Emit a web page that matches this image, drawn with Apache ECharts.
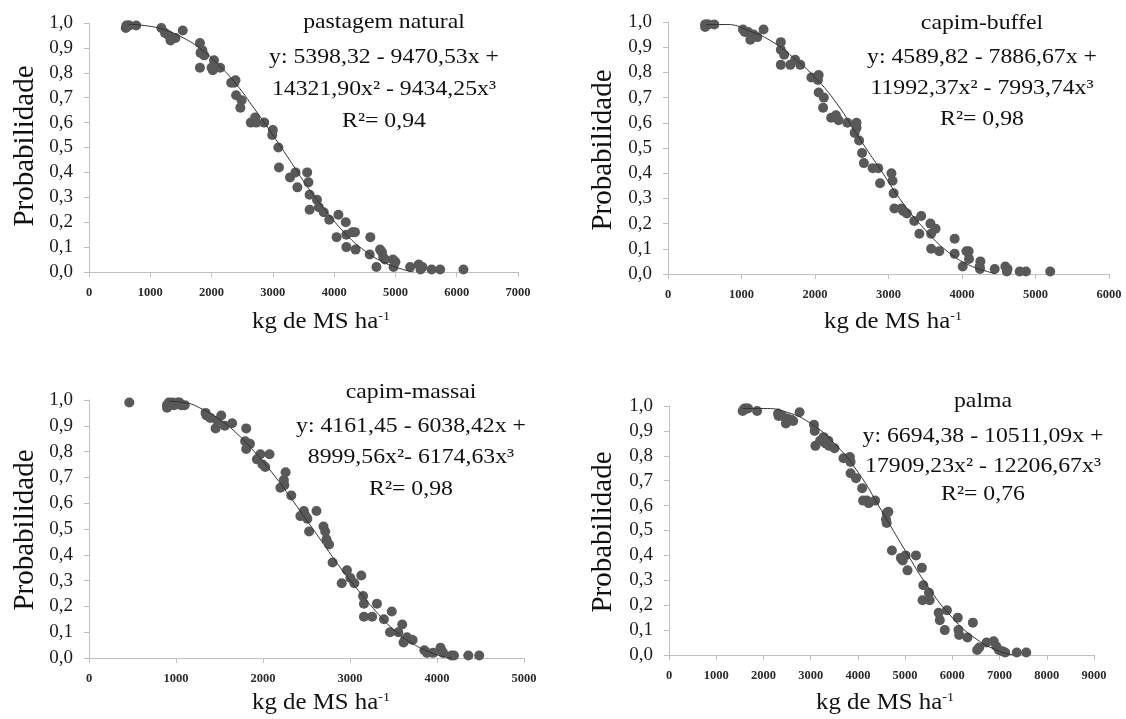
<!DOCTYPE html>
<html>
<head>
<meta charset="utf-8">
<script src="https://cdn.jsdelivr.net/npm/echarts@6/dist/echarts.min.js"></script>
<style>
html,body{margin:0;padding:0;background:#fff;}
#c{width:1126px;height:719px;}
</style>
</head>
<body>
<div id="c"></div>
<script>
// ---- data ----
var yTicks = ['0,0','0,1','0,2','0,3','0,4','0,5','0,6','0,7','0,8','0,9','1,0'];
var panelNames = ['pastagem natural','capim-buffel','capim-massai','palma'];
var eqLine1 = ['y: 5398,32 - 9470,53x +','y: 4589,82 - 7886,67x +','y: 4161,45 - 6038,42x +','y: 6694,38 - 10511,09x +'];
var eqLine2 = ['14321,90x\u00b2 - 9434,25x\u00b3','11992,37x\u00b2 - 7993,74x\u00b3','8999,56x\u00b2- 6174,63x\u00b3','17909,23x\u00b2 - 12206,67x\u00b3'];
var r2Text = ['R\u00b2= 0,94','R\u00b2= 0,98','R\u00b2= 0,98','R\u00b2= 0,76'];
var xMax = [7000, 6000, 5000, 9000];

var pastagemPts = [[600,0.98],[610,0.99],[640,0.99],[660,0.99],[770,0.99],
[1180,0.98],[1240,0.96],[1300,0.95],[1330,0.93],[1350,0.94],[1410,0.94],[1530,0.97],
[1810,0.92],[1820,0.88],[1850,0.89],[1880,0.87],[1810,0.82],[2000,0.82],[2040,0.85],[2020,0.81],[2140,0.82],
[2320,0.76],[2370,0.76],[2390,0.77],[2400,0.71],[2490,0.69],[2470,0.66],
[2640,0.60],[2710,0.62],[2730,0.60],[2860,0.60],[3000,0.57],[2990,0.55],
[3090,0.50],[3100,0.42],[3280,0.38],[3370,0.40],[3400,0.34],[3560,0.40],[3580,0.36],[3600,0.31],[3600,0.25],[3720,0.29],[3750,0.26],[3830,0.24],[3920,0.21],
[4070,0.23],[4040,0.14],[4190,0.20],[4200,0.15],[4200,0.10],[4300,0.16],[4340,0.16],[4350,0.09],
[4590,0.14],[4580,0.07],[4690,0.02],[4750,0.09],[4780,0.08],[4800,0.06],[4830,0.05],[4960,0.05],[4970,0.02],[5000,0.04],
[5240,0.02],[5380,0.03],[5410,0.01],[5440,0.02],[5590,0.01],[5730,0.01],[6110,0.01]];
var pastagemCurve = [[625,0.995],[900,0.99],[1200,0.975],[1500,0.945],[1800,0.90],[2100,0.835],[2400,0.755],[2700,0.655],[3000,0.55],[3300,0.44],[3600,0.33],[3900,0.235],[4200,0.15],[4500,0.085],[4800,0.04],[5100,0.012],[5300,0.0]];

var buffelPts = [[505,0.98],[530,0.99],[550,0.99],[505,0.99],[630,0.99],
[1020,0.97],[1045,0.96],[1090,0.96],[1120,0.93],[1165,0.95],[1215,0.94],[1300,0.97],
[1535,0.92],[1535,0.89],[1535,0.83],[1580,0.87],[1665,0.83],[1730,0.85],[1800,0.83],
[1950,0.78],[2025,0.78],[2050,0.79],[2040,0.77],[2050,0.72],[2120,0.70],[2110,0.66],
[2220,0.62],[2285,0.63],[2320,0.61],[2440,0.60],[2565,0.60],[2565,0.58],[2540,0.56],[2600,0.53],[2640,0.48],[2665,0.44],
[2785,0.42],[2860,0.42],[2885,0.36],[3040,0.40],[3055,0.37],[3070,0.32],[3080,0.26],[3175,0.26],[3200,0.25],[3250,0.24],
[3350,0.21],[3445,0.23],[3420,0.16],[3570,0.20],[3580,0.16],[3580,0.10],[3640,0.18],[3690,0.09],
[3900,0.14],[3900,0.08],[4010,0.03],[4060,0.09],[4090,0.09],[4095,0.06],[4250,0.05],[4240,0.03],[4245,0.02],
[4445,0.02],[4590,0.03],[4620,0.02],[4610,0.01],[4785,0.01],[4870,0.01],[5200,0.01]];
var buffelCurve = [[520,0.99],[800,0.99],[1100,0.965],[1400,0.925],[1700,0.86],[2000,0.78],[2300,0.675],[2600,0.54],[2900,0.41],[3200,0.28],[3500,0.175],[3800,0.09],[4100,0.035],[4400,0.005],[4460,0.0]];

var massaiPts = [[463,0.99],
[897,0.97],[897,0.98],[918,0.99],[958,0.99],[980,0.98],[1020,0.99],[1040,0.99],[1060,0.98],[1100,0.98],[930,0.98],
[1340,0.95],[1350,0.94],[1395,0.93],[1455,0.89],[1475,0.92],[1520,0.94],[1560,0.90],[1645,0.91],
[1807,0.89],[1795,0.84],[1807,0.81],[1850,0.83],[1930,0.77],[1970,0.79],[1995,0.75],[2025,0.74],[2075,0.79],
[2200,0.66],[2240,0.69],[2260,0.72],[2245,0.67],[2325,0.63],
[2430,0.55],[2470,0.57],[2490,0.55],[2510,0.54],[2530,0.49],[2615,0.57],
[2695,0.51],[2715,0.49],[2730,0.46],[2760,0.44],[2800,0.37],
[2905,0.29],[2965,0.34],[3005,0.31],[3050,0.29],[3130,0.32],
[3150,0.24],[3160,0.21],[3160,0.16],[3255,0.16],[3310,0.21],[3390,0.15],[3480,0.18],[3460,0.10],
[3555,0.10],[3600,0.13],[3630,0.07],[3615,0.06],[3655,0.08],[3720,0.07],
[3855,0.03],[3885,0.02],[3955,0.02],[4040,0.04],[4050,0.03],[4070,0.02],[4165,0.01],[4195,0.01],[4360,0.01],[4485,0.01]];
var massaiCurve = [[920,0.995],[1100,0.99],[1300,0.965],[1500,0.925],[1700,0.87],[1900,0.80],[2100,0.72],[2300,0.63],[2500,0.535],[2700,0.44],[2900,0.345],[3100,0.26],[3300,0.18],[3500,0.11],[3700,0.06],[3900,0.025],[4100,0.003],[4170,0.0]];

var palmaPts = [[1560,0.98],[1600,0.99],[1640,0.99],[1675,0.99],[1580,0.985],
[1865,0.98],
[2310,0.97],[2320,0.96],[2400,0.96],[2475,0.93],[2510,0.95],[2590,0.945],[2630,0.94],[2765,0.975],
[3070,0.925],[3085,0.90],[3100,0.84],[3200,0.86],[3275,0.875],[3315,0.85],[3375,0.86],[3390,0.84],[3505,0.83],
[3695,0.79],[3830,0.795],[3845,0.775],[3845,0.73],[3960,0.71],[4090,0.67],[4110,0.62],[4190,0.62],[4230,0.61],[4365,0.62],
[4610,0.57],[4645,0.575],[4595,0.545],[4610,0.53],
[4720,0.42],[4910,0.39],[4950,0.38],[5010,0.40],[5050,0.34],[5230,0.40],[5355,0.35],[5385,0.28],[5370,0.22],[5505,0.25],[5520,0.22],
[5710,0.17],[5735,0.14],[5885,0.18],[5840,0.10],[6115,0.15],[6130,0.10],[6145,0.08],[6320,0.07],[6435,0.13],
[6525,0.02],[6570,0.03],[6725,0.05],[6875,0.055],[6930,0.035],[6985,0.02],[7060,0.015],[7120,0.01],[7365,0.01],[7565,0.01]];
var palmaCurve = [[1560,0.99],[2000,0.99],[2500,0.975],[3000,0.93],[3500,0.85],[4000,0.735],[4500,0.58],[5000,0.42],[5500,0.27],[6000,0.15],[6500,0.065],[7000,0.015],[7300,0.0]];

var allPts = [pastagemPts, buffelPts, massaiPts, palmaPts];
var allCurves = [pastagemCurve, buffelCurve, massaiCurve, palmaCurve];

// ---- layout ----
var SERIF = '"Liberation Serif","Times New Roman",serif';
var grids = [
  {left: 89, top: 23, width: 429, height: 249},
  {left: 668, top: 22, width: 441, height: 252},
  {left: 89, top: 400, width: 435, height: 258},
  {left: 669, top: 406, width: 425, height: 249}
];
var textBlocks = [
  {cx: 384, ys: [22, 57, 89, 121]},
  {cx: 982, ys: [23, 57, 88, 119]},
  {cx: 411, ys: [392, 426, 457, 489]},
  {cx: 983, ys: [401, 436, 466, 494]}
];
var yTitlePos = [[25,146],[603,150],[25,530],[603,532]];
var xTitlePos = [[321,322],[893,322],[321,703],[885,703]];
var STRETCH = 1.08;

var option = {
  backgroundColor: '#fff',
  animation: false,
  grid: grids.map(function(g){ return {left: g.left, top: g.top, width: g.width, height: g.height}; }),
  xAxis: xMax.map(function(m, i){
    return {
      type: 'value', gridIndex: i, min: 0, max: m, interval: 1000,
      axisLine: {show: true, onZero: false, lineStyle: {color: '#bfbfbf', width: 1}},
      axisTick: {show: true, length: 5, lineStyle: {color: '#bfbfbf'}},
      axisLabel: {fontFamily: SERIF, fontSize: 12.5, fontWeight: 'bold', color: '#2a2a2a', margin: 14,
        formatter: function(v){ return String(v); }},
      splitLine: {show: false}
    };
  }),
  yAxis: xMax.map(function(m, i){
    return {
      type: 'value', gridIndex: i, min: 0, max: 1, interval: 0.1,
      axisLine: {show: true, lineStyle: {color: '#bfbfbf', width: 1}},
      axisTick: {show: true, length: 5, lineStyle: {color: '#bfbfbf'}},
      axisLabel: {fontFamily: SERIF, fontSize: 19, color: '#1a1a1a', margin: 16,
        formatter: function(v){ return yTicks[Math.round(v*10)]; }},
      splitLine: {show: false}
    };
  }),
  series: [],
  graphic: []
};

for (var i = 0; i < 4; i++) {
  option.series.push({
    type: 'scatter', xAxisIndex: i, yAxisIndex: i, data: allPts[i],
    symbol: 'circle', symbolSize: 10,
    itemStyle: {color: '#595959', opacity: 1}, z: 2
  });
  option.series.push({
    type: 'line', xAxisIndex: i, yAxisIndex: i, data: allCurves[i],
    smooth: true, showSymbol: false, symbol: 'none',
    lineStyle: {color: '#333', width: 1}, z: 3
  });
  var tb = textBlocks[i];
  var lines = [panelNames[i], eqLine1[i], eqLine2[i], r2Text[i]];
  for (var k = 0; k < 4; k++) {
    option.graphic.push({
      type: 'text', x: tb.cx, y: tb.ys[k], z: 10, scaleX: STRETCH,
      style: {text: lines[k], font: '22px ' + SERIF, fill: '#111', align: 'center', verticalAlign: 'middle'}
    });
  }
  option.graphic.push({
    type: 'text', x: yTitlePos[i][0], y: yTitlePos[i][1], rotation: Math.PI/2, z: 10,
    style: {text: 'Probabilidade', font: '29px ' + SERIF, fill: '#111', align: 'center', verticalAlign: 'middle'}
  });
  option.graphic.push({
    type: 'text', x: xTitlePos[i][0], y: xTitlePos[i][1], z: 10, scaleX: STRETCH,
    style: {
      text: '{a|kg de MS ha}{b|-1}', align: 'center', verticalAlign: 'middle',
      rich: {
        a: {fontFamily: SERIF, fontSize: 23, fill: '#111', color: '#111', lineHeight: 24},
        b: {fontFamily: SERIF, fontSize: 13, fill: '#111', color: '#111', verticalAlign: 'top', lineHeight: 14, padding: [0,0,10,0]}
      }
    }
  });
}

var chart = echarts.init(document.getElementById('c'), null, {renderer: 'canvas'});
chart.setOption(option);
</script>
</body>
</html>
